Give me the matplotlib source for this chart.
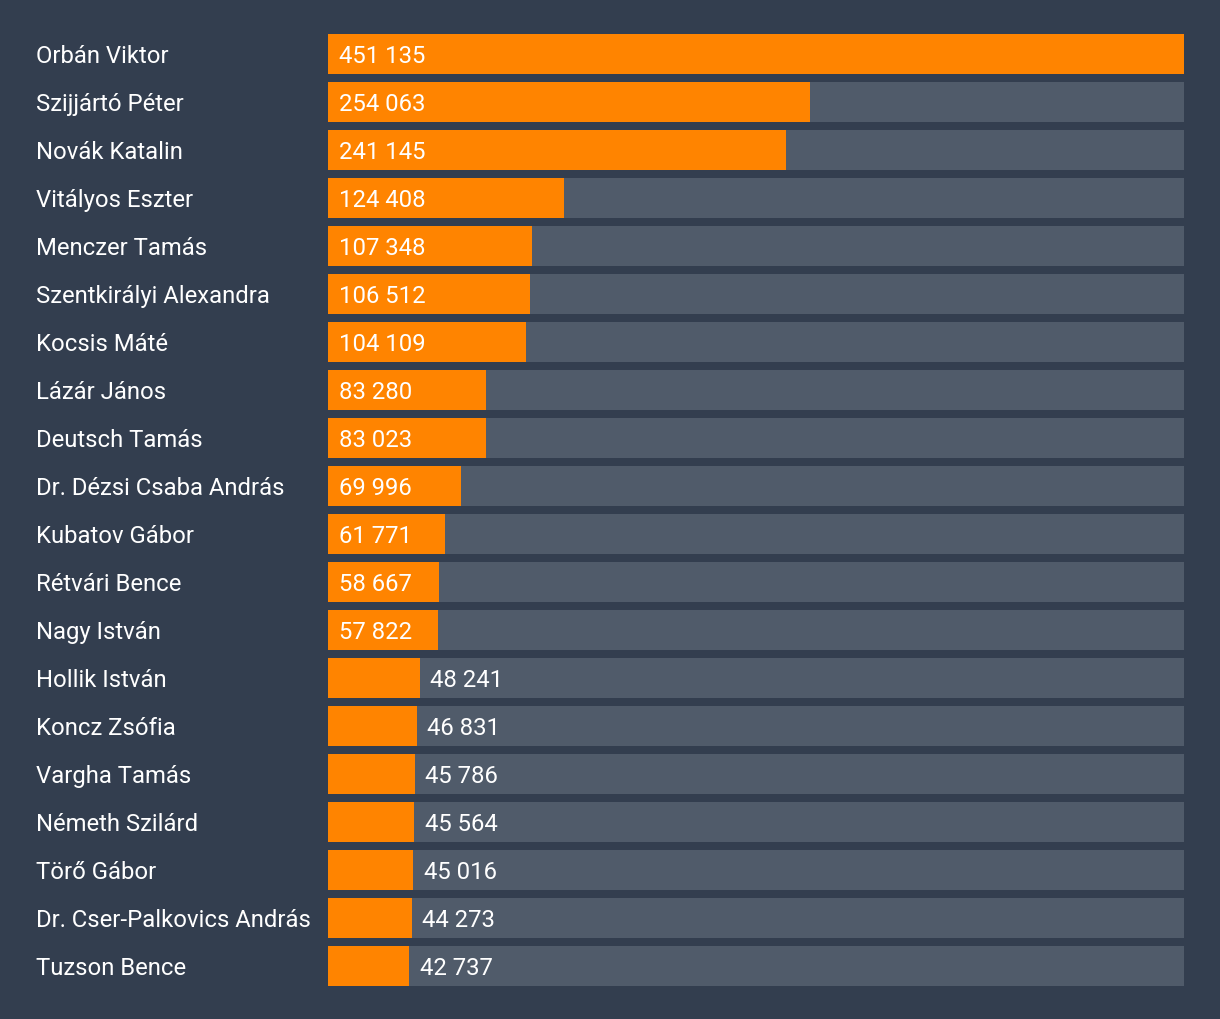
import matplotlib
matplotlib.use("Agg")
import matplotlib.pyplot as plt

plt.rcParams['font.family'] = ['Roboto', 'DejaVu Sans']

# adatok
names = ["Orbán Viktor", "Szijjártó Péter", "Novák Katalin", "Vitályos Eszter",
         "Menczer Tamás", "Szentkirályi Alexandra", "Kocsis Máté", "Lázár János",
         "Deutsch Tamás", "Dr. Dézsi Csaba András", "Kubatov Gábor", "Rétvári Bence",
         "Nagy István", "Hollik István", "Koncz Zsófia", "Vargha Tamás",
         "Németh Szilárd", "Törő Gábor", "Dr. Cser-Palkovics András", "Tuzson Bence"]
values = [451135, 254063, 241145, 124408, 107348, 106512, 104109, 83280,
          83023, 69996, 61771, 58667, 57822, 48241, 46831, 45786,
          45564, 45016, 44273, 42737]

bg = '#333e4f'
track = '#505b6a'
orange = '#ff8400'

W, H = 1220, 1020
fig = plt.figure(figsize=(W / 100, H / 100), dpi=100, facecolor=bg)
ax = fig.add_axes([328 / W, 32.8 / H, (1184 - 328) / W, 952 / H])
ax.set_facecolor(bg)

vmax = max(values)
n = len(values)
ypos = list(range(n))
h = 40 / 48
fs = 17.2
dy = -0.9

ax.barh(ypos, [vmax] * n, height=h, color=track, left=0)
ax.barh(ypos, values, height=h, color=orange)

for y, v, name in zip(ypos, values, names):
    txt = f"{v:,}".replace(",", " ")
    if v / vmax > 0.12:
        ax.annotate(txt, (0, y), xytext=(8, dy), textcoords='offset points',
                    va='center', ha='left', color='white', fontsize=fs)
    else:
        ax.annotate(txt, (v, y), xytext=(7.5, dy), textcoords='offset points',
                    va='center', ha='left', color='white', fontsize=fs)
    ax.annotate(name, (0, y), xycoords=('figure pixels', 'data'),
                xytext=(36 * 0.72, dy), textcoords='offset points',
                va='center', ha='left', color='white', fontsize=fs)

ax.set_xlim(0, vmax)
ax.set_ylim(n - 1 + h / 2, -h / 2)
ax.axis('off')

fig.savefig('out.png', dpi=100, facecolor=bg)
